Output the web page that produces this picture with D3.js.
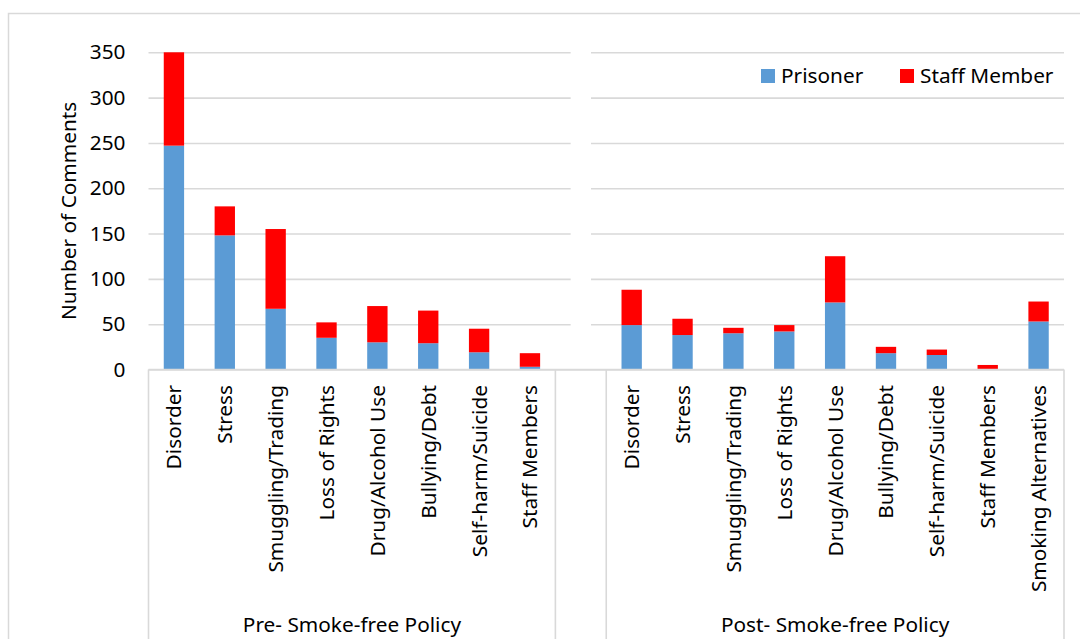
<!DOCTYPE html>
<html>
<head>
<meta charset="utf-8">
<script src="https://cdn.jsdelivr.net/npm/d3@7"></script>
<style>
  html, body { margin: 0; padding: 0; background: #fff; }
  svg { display: block; }
  text { font-family: "Noto Sans", "Open Sans", sans-serif; fill: #000; }
</style>
</head>
<body>
<svg id="chart" width="1080" height="639"></svg>
<script>
// Comment categories before and after the smoke-free policy
const preCategories = ["Disorder", "Stress", "Smuggling/Trading", "Loss of Rights",
  "Drug/Alcohol Use", "Bullying/Debt", "Self-harm/Suicide", "Staff Members"];
const prePrisoner = [247, 148, 67, 35, 30, 29, 19, 3];
const preStaff    = [103, 32, 88, 17, 40, 36, 26, 15];

const postCategories = ["Disorder", "Stress", "Smuggling/Trading", "Loss of Rights",
  "Drug/Alcohol Use", "Bullying/Debt", "Self-harm/Suicide", "Staff Members",
  "Smoking Alternatives"];
const postPrisoner = [49, 38, 40, 42, 74, 18, 16, 0, 53];
const postStaff    = [39, 18, 6, 7, 51, 7, 6, 5, 22];

const groupLabels = ["Pre- Smoke-free Policy", "Post- Smoke-free Policy"];
const seriesNames = ["Prisoner", "Staff Member"];
const seriesColors = ["#5B9BD5", "#FF0000"];
const yTicks = [0, 50, 100, 150, 200, 250, 300, 350];
const yTitle = "Number of Comments";

// Build one row per slot: pre group, a blank divider slot, post group
const rows = [];
preCategories.forEach((c, i) => rows.push({ key: "pre-" + i, group: 0, label: c,
  Prisoner: prePrisoner[i], "Staff Member": preStaff[i] }));
rows.push({ key: "divider", group: -1, label: "", Prisoner: 0, "Staff Member": 0 });
postCategories.forEach((c, i) => rows.push({ key: "post-" + i, group: 1, label: c,
  Prisoner: postPrisoner[i], "Staff Member": postStaff[i] }));

const svg = d3.select("#chart");
const gridColor = "#d9d9d9";
const fontSize = 20.8;

const plotLeft = 148.5, plotRight = 1064, plotTop = 52.3, plotBottom = 369.5;

const x = d3.scaleBand().domain(rows.map(r => r.key)).range([plotLeft, plotRight])
  .paddingInner(0).paddingOuter(0);
const y = d3.scaleLinear().domain([0, 350]).range([plotBottom, plotTop]);
const barW = x.bandwidth() * 0.4;
const barOff = (x.bandwidth() - barW) / 2;

// Outer chart border
svg.append("rect").attr("x", 8.5).attr("y", 13.5).attr("width", 1200).attr("height", 800)
  .attr("fill", "none").attr("stroke", gridColor).attr("stroke-width", 1.5);

// Horizontal gridlines
svg.append("g")
  .attr("transform", `translate(${plotLeft},0)`)
  .call(d3.axisLeft(y).tickValues(yTicks).tickSize(-(plotRight - plotLeft)).tickFormat(""))
  .call(g => g.select(".domain").remove())
  .call(g => g.selectAll("line").attr("stroke", gridColor).attr("stroke-width", 1.6));

// White divider mask in the blank slot between the two groups
svg.append("rect")
  .attr("x", x("divider") + barOff)
  .attr("y", y(350) - 2)
  .attr("width", barW)
  .attr("height", y(0) - y(350) + 0.5)
  .attr("fill", "#fff");

// Y tick labels
svg.append("g")
  .attr("transform", `translate(${plotLeft},0)`)
  .call(d3.axisLeft(y).tickValues(yTicks).tickSize(0).tickPadding(23))
  .call(g => g.select(".domain").remove())
  .call(g => g.selectAll("text").attr("font-size", fontSize)
    .style("font-family", '"Noto Sans", sans-serif').attr("fill", "#000"));

// Stacked bars
const stack = d3.stack().keys(seriesNames);
const layers = stack(rows.filter(r => r.group >= 0));
svg.append("g").selectAll("g")
  .data(layers)
  .join("g")
  .attr("fill", (d, i) => seriesColors[i])
  .selectAll("rect")
  .data(d => d.filter(p => p[1] > p[0]))
  .join("rect")
  .attr("x", d => x(d.data.key) + barOff)
  .attr("width", barW)
  .attr("y", d => y(d[1]))
  .attr("height", d => y(d[0]) - y(d[1]));

// Category axis baseline and group boundaries
svg.append("line").attr("x1", plotLeft).attr("x2", plotRight)
  .attr("y1", plotBottom).attr("y2", plotBottom)
  .attr("stroke", gridColor).attr("stroke-width", 1.6);

const boundaries = [plotLeft, x("divider"), x("post-0"), plotRight];
svg.append("g").selectAll("line")
  .data(boundaries)
  .join("line")
  .attr("x1", d => d).attr("x2", d => d)
  .attr("y1", plotBottom).attr("y2", 650)
  .attr("stroke", gridColor).attr("stroke-width", 1.6);

// Rotated category labels
svg.append("g").selectAll("text")
  .data(rows.filter(r => r.group >= 0))
  .join("text")
  .attr("transform", d => `translate(${x(d.key) + x.bandwidth() / 2},385) rotate(-90)`)
  .attr("text-anchor", "end")
  .attr("dy", "0.36em")
  .attr("font-size", fontSize)
  .text(d => d.label);

// Group labels
const groupSpans = [
  [plotLeft, x("divider")],
  [x("post-0"), plotRight]
];
svg.append("g").selectAll("text")
  .data(groupLabels)
  .join("text")
  .attr("x", (d, i) => (groupSpans[i][0] + groupSpans[i][1]) / 2)
  .attr("y", 632)
  .attr("text-anchor", "middle")
  .attr("font-size", fontSize)
  .text(d => d);

// Y axis title
svg.append("text")
  .attr("transform", `translate(76,${(plotTop + plotBottom) / 2}) rotate(-90)`)
  .attr("text-anchor", "middle")
  .attr("font-size", fontSize)
  .text(yTitle);

// Legend
const legendX = [761, 900];
const legend = svg.append("g").selectAll("g")
  .data(seriesNames)
  .join("g")
  .attr("transform", (d, i) => `translate(${legendX[i]},69)`);
legend.append("rect").attr("width", 14).attr("height", 14)
  .attr("fill", (d, i) => seriesColors[i]);
legend.append("text").attr("x", 20).attr("y", 13.5)
  .attr("font-size", fontSize).text(d => d);
</script>
</body>
</html>
